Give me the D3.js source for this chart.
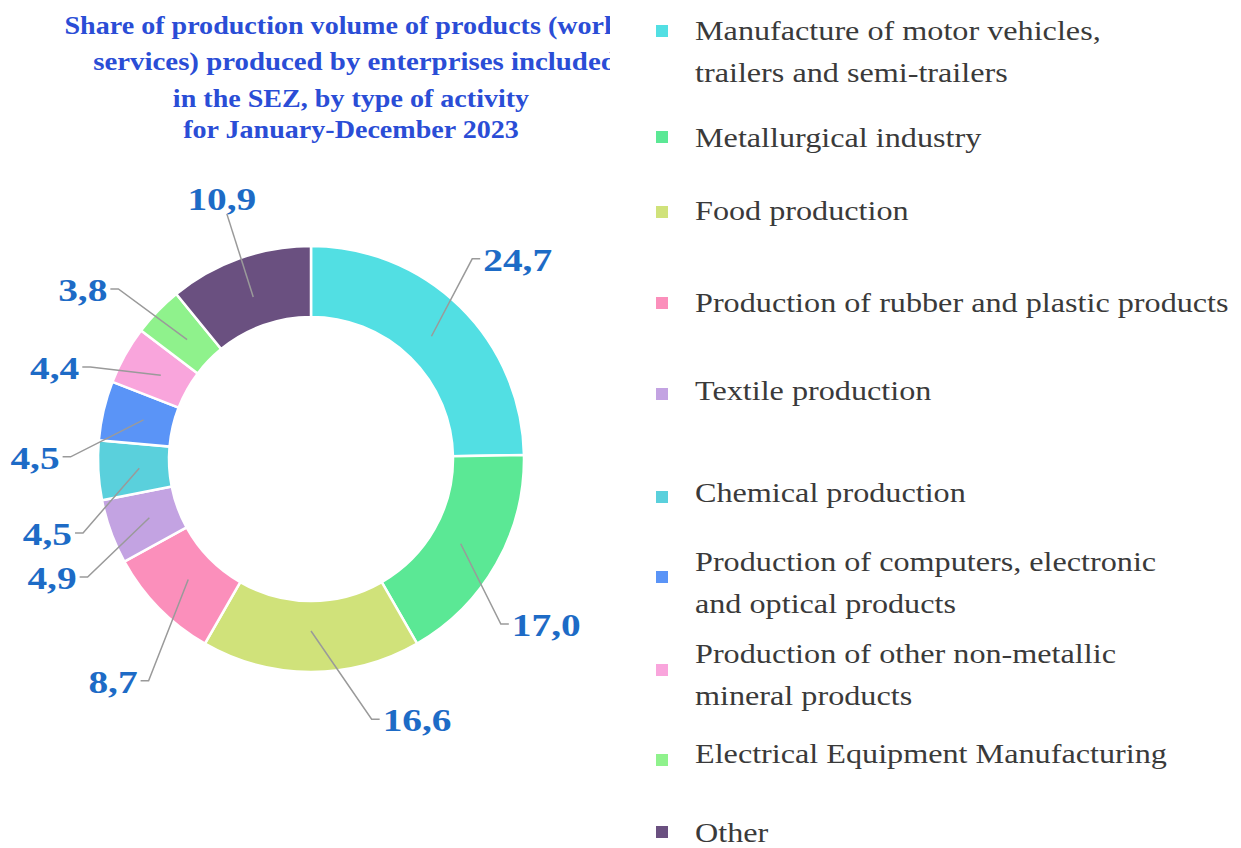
<!DOCTYPE html>
<html>
<head>
<meta charset="utf-8">
<script src="https://cdn.jsdelivr.net/npm/d3@7"></script>
<style>
  body { margin: 0; background: #fff; }
  svg { display: block; }
</style>
</head>
<body>
<div id="chart"></div>
<script>
const width = 1241, height = 848;

// data
const categories = [
    ["Manufacture of motor vehicles,", "trailers and semi-trailers"],
    ["Metallurgical industry"],
    ["Food production"],
    ["Production of rubber and plastic products"],
    ["Textile production"],
    ["Chemical production"],
    ["Production of computers, electronic", "and optical products"],
    ["Production of other non-metallic", "mineral products"],
    ["Electrical Equipment Manufacturing"],
    ["Other"]
];
const values = [24.7, 17.0, 16.6, 8.7, 4.9, 4.5, 4.5, 4.4, 3.8, 10.9];
const colors = ["#52dfe3", "#5be895", "#d0e27a", "#fb8fbb", "#c3a3e2",
                "#5ad0dc", "#5a94f7", "#f9a5dc", "#8ff28c", "#6a5080"];
const titleLines = [
    "Share of production volume of products (works,",
    "services) produced by enterprises included",
    "in the SEZ, by type of activity",
    "for January-December 2023"
];

// layout tweaks for the data labels (angle in degrees, radius in px)
const labelNudge = [1.6, 5.7, -22.1, -3.9, -4.7, -12.8, -12.9, -9.6, -7.4, 0.7];
const labelDr = [4, 5, -1, 15, 2, -9, -7, -11, 1, -8];
const legendTextY = [30, 137, 210, 302, 390, 492, 561, 653, 753, 832];
const legendMarkerY = [31, 137, 212, 303, 394, 497, 577, 670, 760, 832];
const titleY = [25, 61, 98, 129];

const serif = "'Liberation Serif', 'Times New Roman', serif";

const svg = d3.select("#chart").append("svg")
    .attr("width", width)
    .attr("height", height);

// title, clipped at the right like the source
svg.append("clipPath").attr("id", "titleClip")
    .append("rect").attr("x", 0).attr("y", 0).attr("width", 610).attr("height", 160);

svg.append("g")
    .attr("clip-path", "url(#titleClip)")
    .selectAll("text")
    .data(titleLines)
    .enter().append("text")
    .attr("transform", (d, i) => `translate(${i === 1 ? 355 : 351},${titleY[i]}) scale(${i === 1 ? 1.11 : 1.08},1)`)
    .attr("dy", "0.35em")
    .attr("text-anchor", "middle")
    .style("font-family", serif)
    .style("font-weight", "bold")
    .style("font-size", "26px")
    .style("fill", "#2a4dd6")
    .text(d => d);

// donut
const cx = 311, cy = 459;
const outerR = 213, innerR = 142;

const pie = d3.pie().sort(null).value(d => d);
const arcs = pie(values);

const arc = d3.arc().innerRadius(innerR).outerRadius(outerR);
const pointArc = d3.arc().innerRadius(172).outerRadius(172);

const g = svg.append("g").attr("transform", `translate(${cx},${cy})`);

g.selectAll("path")
    .data(arcs)
    .enter().append("path")
    .attr("d", arc)
    .attr("fill", (d, i) => colors[i])
    .attr("stroke", "#fff")
    .attr("stroke-width", 2.5);

// labels with leader lines
const labelR = 283, labelStretch = 1.27;
const labels = g.selectAll(".lbl")
    .data(arcs)
    .enter().append("g")
    .attr("class", "lbl");

labels.each(function (d, i) {
    const sel = d3.select(this);
    const mid = (d.startAngle + d.endAngle) / 2 + labelNudge[i] * Math.PI / 180;
    const r = labelR + labelDr[i];
    const lx = r * Math.sin(mid), ly = -r * Math.cos(mid);
    const txt = sel.append("text")
        .attr("transform", `translate(${lx},${ly}) scale(${labelStretch},1)`)
        .attr("dy", "0.35em")
        .attr("text-anchor", "middle")
        .style("font-family", serif)
        .style("font-weight", "bold")
        .style("font-size", "31px")
        .style("fill", "#1d6bc6")
        .text(d3.format(".1f")(d.value).replace(".", ","));
    const half = txt.node().getComputedTextLength() * labelStretch / 2;
    const p = pointArc.centroid(d);
    let pts;
    if (Math.abs(lx) < 120 && ly < 0) {
        // label sits above the ring: leader drops from its bottom
        pts = [[lx + 5, ly + 15], p];
    } else {
        const right = lx > 0;
        const x0 = right ? lx - half - 3 : lx + half + 3;
        const x1 = right ? x0 - 8 : x0 + 8;
        pts = [[x0, ly - 1], [x1, ly - 1], p];
    }
    sel.append("path")
        .attr("d", d3.line()(pts))
        .attr("fill", "none")
        .attr("stroke", "#9a9a9a")
        .attr("stroke-width", 1.5);
});

// legend
const legend = svg.selectAll(".legend")
    .data(categories)
    .enter().append("g")
    .attr("class", "legend");

legend.append("rect")
    .attr("x", 656)
    .attr("y", (d, i) => legendMarkerY[i] - 6)
    .attr("width", 12)
    .attr("height", 12)
    .style("fill", (d, i) => colors[i]);

legend.append("text")
    .attr("transform", (d, i) => `translate(695,${legendTextY[i]}) scale(1.15,1)`)
    .style("font-family", serif)
    .style("font-size", "28px")
    .style("fill", "#3a3a3a")
    .selectAll("tspan")
    .data(d => d)
    .enter().append("tspan")
    .attr("x", 0)
    .attr("dy", (d, i) => i === 0 ? "0.35em" : "42px")
    .text(d => d);
</script>
</body>
</html>
